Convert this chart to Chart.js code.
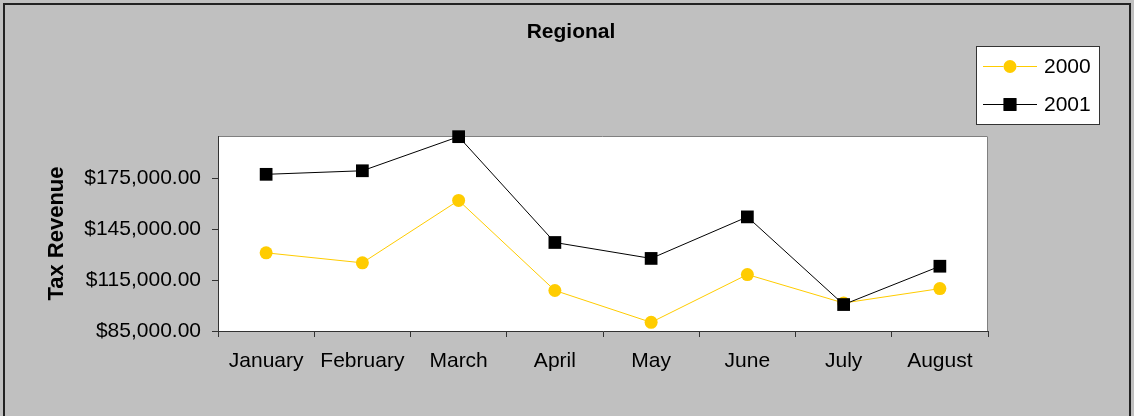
<!DOCTYPE html>
<html>
<head>
<meta charset="utf-8">
<title>Regional</title>
<script src="https://cdn.jsdelivr.net/npm/chart.js@4/dist/chart.umd.min.js"></script>
<style>
  html, body { margin: 0; padding: 0; background: #c0c0c0; }
  #wrap { width: 1134px; height: 416px; }
</style>
</head>
<body>
<div id="wrap"><canvas id="regional"></canvas></div>
<script>
// data
const months = ["January", "February", "March", "April", "May", "June", "July", "August"];
const rev2000 = [131100, 125200, 162000, 108900, 90100, 118300, 101500, 110000];
const rev2001 = [177400, 179500, 199600, 137200, 127800, 152300, 100600, 123200];
const yTicks = [85000, 115000, 145000, 175000];

const FONT = "'Liberation Sans', Arial, sans-serif";
const GOLD = "#ffcc00";

// gray background, outer frame, white plot area, title and legend box
const frame = {
  id: "frame",
  beforeDraw(chart) {
    const { ctx, chartArea: a } = chart;
    ctx.save();
    ctx.fillStyle = "#c0c0c0";
    ctx.fillRect(0, 0, chart.width, chart.height);
    // frame runs off the bottom edge like in the source
    ctx.strokeStyle = "#222";
    ctx.lineWidth = 2;
    ctx.strokeRect(4, 4, chart.width - 8, chart.height + 10);
    ctx.fillStyle = "#fff";
    ctx.fillRect(a.left, a.top, a.right - a.left, a.bottom - a.top);
    ctx.strokeStyle = "#808080";
    ctx.lineWidth = 1;
    ctx.beginPath();
    ctx.moveTo(a.left, a.top + 0.5);
    ctx.lineTo(a.right - 0.5, a.top + 0.5);
    ctx.lineTo(a.right - 0.5, a.bottom);
    ctx.stroke();
    ctx.restore();
  },
  afterDraw(chart) {
    const ctx = chart.ctx;
    ctx.save();
    ctx.fillStyle = "#000";
    ctx.font = "bold 21px " + FONT;
    ctx.textAlign = "center";
    ctx.textBaseline = "middle";
    ctx.fillText("Regional", 571, 32);

    // legend
    ctx.fillStyle = "#fff";
    ctx.fillRect(976, 46, 123, 78);
    ctx.strokeStyle = "#333";
    ctx.lineWidth = 1;
    ctx.strokeRect(976.5, 46.5, 123, 78);
    const rows = [[66, chart.data.datasets[0]], [104, chart.data.datasets[1]]];
    rows.forEach(([y, ds]) => {
      ctx.strokeStyle = ds.borderColor;
      ctx.beginPath();
      ctx.moveTo(983, y + 0.5);
      ctx.lineTo(1037, y + 0.5);
      ctx.stroke();
      Chart.helpers.drawPoint(ctx, {
        pointStyle: ds.pointStyle, radius: ds.pointRadius, borderWidth: 0, rotation: 0
      }, 1010, y + 0.5);
      ctx.fillStyle = ds.pointBackgroundColor;
      ctx.fill();
      ctx.fillStyle = "#000";
      ctx.font = "21px " + FONT;
      ctx.textAlign = "left";
      ctx.fillText(ds.label, 1044, y + 1);
    });
    ctx.restore();
  }
};

new Chart(document.getElementById("regional"), {
  type: "line",
  data: {
    labels: months,
    datasets: [
      {
        label: "2000",
        data: rev2000,
        order: 1,
        borderColor: GOLD,
        borderWidth: 1,
        pointStyle: "circle",
        pointRadius: 6.5,
        pointBackgroundColor: GOLD,
        pointBorderWidth: 0,
        clip: false
      },
      {
        label: "2001",
        data: rev2001,
        order: 0,
        borderColor: "#000",
        borderWidth: 1,
        pointStyle: "rect",
        pointRadius: 9,
        pointBackgroundColor: "#000",
        pointBorderWidth: 0,
        clip: false
      }
    ]
  },
  options: {
    responsive: true,
    maintainAspectRatio: false,
    animation: false,
    events: [],
    layout: { padding: { left: 0, top: 136, right: 146, bottom: 0 } },
    plugins: {
      legend: { display: false },
      title: { display: false },
      tooltip: { enabled: false }
    },
    scales: {
      x: {
        offset: true,
        afterFit(scale) { scale.height = 85; },
        grid: {
          offset: true,
          drawOnChartArea: false,
          tickLength: 6,
          tickColor: "#333"
        },
        border: { color: "#333", width: 1 },
        ticks: { color: "#000", padding: 12, maxRotation: 0, autoSkip: false, font: { family: FONT, size: 21 } }
      },
      y: {
        min: 85000,
        max: 200000,
        afterFit(scale) { scale.width = 218; },
        afterBuildTicks(scale) { scale.ticks = yTicks.map(v => ({ value: v })); },
        grid: {
          drawOnChartArea: false,
          tickLength: 6,
          tickColor: "#333"
        },
        border: { color: "#333", width: 1 },
        ticks: {
          color: "#000",
          padding: 11,
          font: { family: FONT, size: 21 },
          callback: v => "$" + v.toLocaleString("en-US", { minimumFractionDigits: 2, maximumFractionDigits: 2 })
        },
        title: {
          display: true,
          text: "Tax Revenue",
          color: "#000",
          padding: { top: 44, bottom: 0 },
          font: { family: FONT, size: 22, weight: "bold" }
        }
      }
    }
  },
  plugins: [frame]
});
</script>
</body>
</html>
